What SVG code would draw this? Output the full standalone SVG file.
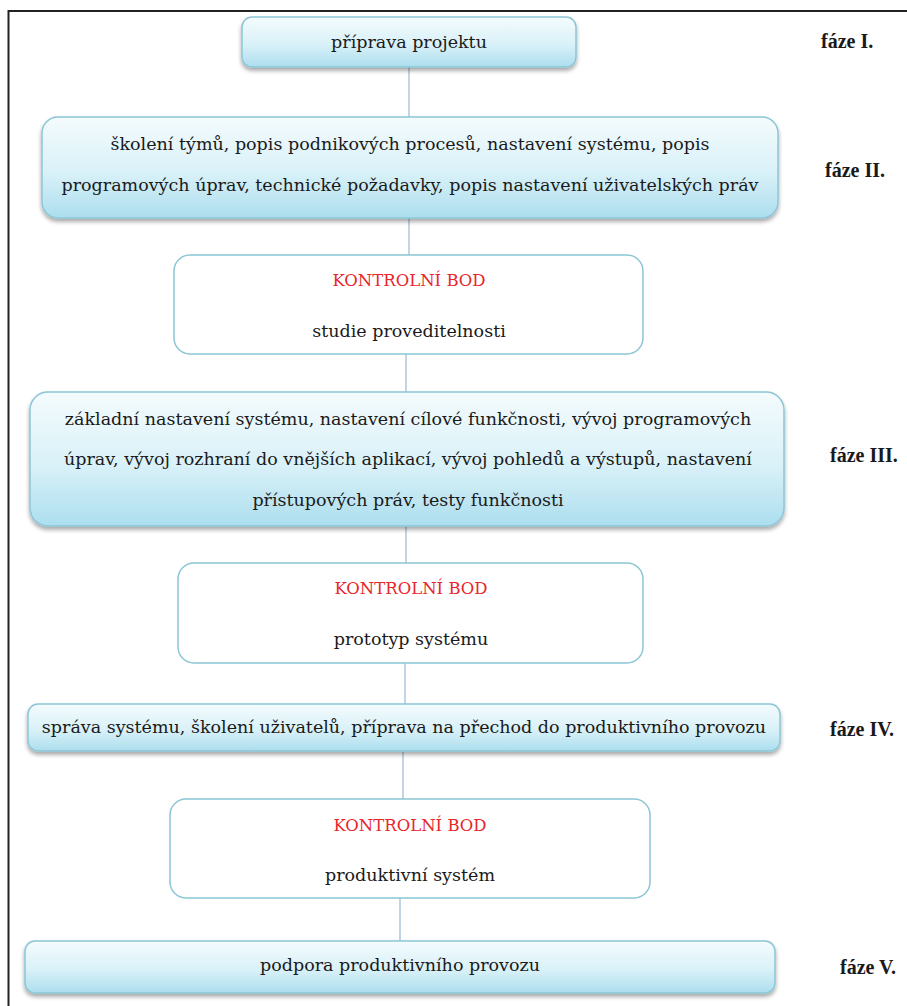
<svg xmlns="http://www.w3.org/2000/svg" width="907" height="1006" viewBox="0 0 907 1006">
  <defs>
    <linearGradient id="phaseFill" x1="0" y1="0" x2="0" y2="1">
      <stop offset="0" stop-color="#f4fbfd"/>
      <stop offset="0.55" stop-color="#d9f1f8"/>
      <stop offset="1" stop-color="#acdeee"/>
    </linearGradient>
    <filter id="drop" x="-5%" y="-20%" width="110%" height="150%">
      <feGaussianBlur in="SourceAlpha" stdDeviation="2"/>
      <feOffset dx="0" dy="3" result="b"/>
      <feComponentTransfer><feFuncA type="linear" slope="0.35"/></feComponentTransfer>
      <feMerge><feMergeNode/><feMergeNode in="SourceGraphic"/></feMerge>
    </filter>
    <style>
      .phase { fill: url(#phaseFill); stroke: #8cc6d6; stroke-width: 1.5; filter: url(#drop); }
      .check { fill: #ffffff; stroke: #8cc6d6; stroke-width: 1.5; }
      .link { stroke: #9ab8d4; stroke-width: 1.2; fill: none; }
    </style>
  </defs>

  <rect width="907" height="1006" fill="#ffffff"/>
  <!-- frame -->
  <path d="M8.5 1006 V11 H907" fill="none" stroke="#222" stroke-width="2"/>

  <g id="connectors">
    <line class="link" x1="409" y1="67" x2="409" y2="117"/>
    <line class="link" x1="409" y1="218" x2="409" y2="255"/>
    <line class="link" x1="406" y1="354" x2="406" y2="392"/>
    <line class="link" x1="406" y1="526" x2="406" y2="563"/>
    <line class="link" x1="405" y1="663" x2="405" y2="704"/>
    <line class="link" x1="403" y1="751" x2="403" y2="799"/>
    <line class="link" x1="400" y1="898" x2="400" y2="941"/>
  </g>

  <!-- box captions: regular serif, centred -->
  <g font-family="DejaVu Serif" font-size="17.5" fill="#1a1a1a" text-anchor="middle">
    <g id="phase1">
      <rect class="phase" x="242" y="17" width="334" height="50" rx="10"/>
      <text x="409" y="48">příprava projektu</text>
    </g>

    <g id="phase2">
      <rect class="phase" x="42" y="117" width="736" height="101" rx="16"/>
      <text x="410" y="150">školení týmů, popis podnikových procesů, nastavení systému, popis</text>
      <text x="410" y="191">programových úprav, technické požadavky, popis nastavení uživatelských práv</text>
    </g>

    <g id="checkpoint1">
      <rect class="check" x="174" y="255" width="469" height="99" rx="16"/>
      <text x="409" y="286" fill="#e8262b" font-size="16.5">KONTROLNÍ BOD</text>
      <text x="409" y="337">studie proveditelnosti</text>
    </g>

    <g id="phase3">
      <rect class="phase" x="30" y="392" width="754" height="134" rx="18"/>
      <text x="408" y="425">základní nastavení systému, nastavení cílové funkčnosti, vývoj programových</text>
      <text x="408" y="465">úprav, vývoj rozhraní do vnějších aplikací, vývoj pohledů a výstupů, nastavení</text>
      <text x="408" y="506">přístupových práv, testy funkčnosti</text>
    </g>

    <g id="checkpoint2">
      <rect class="check" x="178" y="563" width="465" height="100" rx="16"/>
      <text x="411" y="594" fill="#e8262b" font-size="16.5">KONTROLNÍ BOD</text>
      <text x="411" y="645">prototyp systému</text>
    </g>

    <g id="phase4">
      <rect class="phase" x="28" y="704" width="752" height="47" rx="10"/>
      <text x="404" y="733">správa systému, školení uživatelů, příprava na přechod do produktivního provozu</text>
    </g>

    <g id="checkpoint3">
      <rect class="check" x="170" y="799" width="480" height="99" rx="16"/>
      <text x="410" y="831" fill="#e8262b" font-size="16.5">KONTROLNÍ BOD</text>
      <text x="410" y="881">produktivní systém</text>
    </g>

    <g id="phase5">
      <rect class="phase" x="25" y="941" width="750" height="52" rx="10"/>
      <text x="400" y="971">podpora produktivního provozu</text>
    </g>
  </g>

  <!-- phase labels on the right -->
  <g id="phase-labels" font-family="Liberation Serif" font-size="20" font-weight="bold" fill="#1a1a1a">
    <text x="821" y="48">fáze I.</text>
    <text x="825" y="177">fáze II.</text>
    <text x="830" y="462">fáze III.</text>
    <text x="830" y="736">fáze IV.</text>
    <text x="840" y="974">fáze V.</text>
  </g>
</svg>
